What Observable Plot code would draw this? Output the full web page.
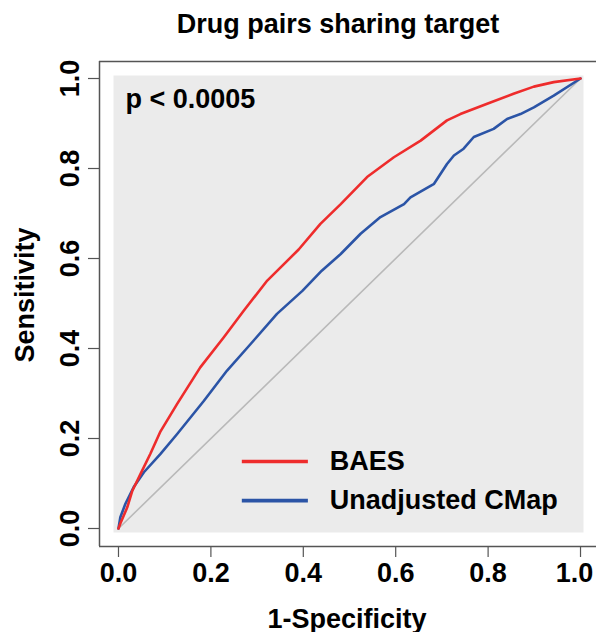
<!DOCTYPE html>
<html>
<head>
<meta charset="utf-8">
<script src="https://cdn.jsdelivr.net/npm/d3@7"></script>
<script src="https://cdn.jsdelivr.net/npm/@observablehq/plot@0.6"></script>
<style>
  html, body { margin: 0; padding: 0; background: white; }
</style>
</head>
<body>
<div id="chart"></div>
<script>
// ---- data ----
const title = "Drug pairs sharing target";
const xLabel = "1-Specificity";
const yLabel = "Sensitivity";
const pLabel = "p < 0.0005";
const seriesNames = ["BAES", "Unadjusted CMap"];
const seriesColors = ["#ee2c2c", "#2b54a6"];
const xTicks = [0, 0.2, 0.4, 0.6, 0.8, 1.0];
const yTicks = [0, 0.2, 0.4, 0.6, 0.8, 1.0];

const baesFpr = [0, 0.004, 0.019, 0.030, 0.048, 0.069, 0.091, 0.127, 0.177, 0.228, 0.271, 0.322, 0.390, 0.437, 0.481, 0.538, 0.596, 0.654, 0.711, 0.740, 0.798, 0.855, 0.899, 0.942, 1.0];
const baesTpr = [0, 0.011, 0.047, 0.084, 0.122, 0.166, 0.216, 0.277, 0.358, 0.425, 0.484, 0.551, 0.620, 0.677, 0.721, 0.781, 0.825, 0.862, 0.907, 0.921, 0.944, 0.966, 0.982, 0.992, 1.0];

const cmapFpr = [0, 0.004, 0.015, 0.033, 0.055, 0.091, 0.127, 0.185, 0.235, 0.286, 0.343, 0.398, 0.440, 0.481, 0.524, 0.567, 0.618, 0.632, 0.683, 0.711, 0.726, 0.747, 0.769, 0.812, 0.841, 0.870, 0.899, 0.942, 1.0];
const cmapTpr = [0, 0.025, 0.055, 0.092, 0.125, 0.166, 0.210, 0.284, 0.351, 0.410, 0.477, 0.528, 0.573, 0.610, 0.655, 0.692, 0.721, 0.736, 0.766, 0.810, 0.829, 0.844, 0.870, 0.888, 0.910, 0.921, 0.936, 0.962, 1.0];

const diagonal = [0, 1];

// ---- build tables ----
const baes = baesFpr.map((x, i) => ({x, y: baesTpr[i], s: seriesNames[0]}));
const cmap = cmapFpr.map((x, i) => ({x, y: cmapTpr[i], s: seriesNames[1]}));
const diag = diagonal.map(v => ({x: v, y: v}));

// layout (scale extents / legend placement)
const xDomain = [-0.0411, 1.0346];
const yDomain = [-0.04, 1.0378];
const legend = seriesNames.map((name, i) => ({name, color: seriesColors[i], y: [0.149, 0.062][i]}));
const legX1 = 0.268, legX2 = 0.411, legTextX = 0.457;

const frameStroke = "#555";
const fmt = d => d.toFixed(1);
const lastX = xTicks[xTicks.length - 1];

const chart = Plot.plot({
  width: 596,
  height: 632,
  marginLeft: 99,
  marginRight: 0,
  marginTop: 61,
  marginBottom: 86,
  style: {
    fontFamily: "'Liberation Sans', Arial, Helvetica, sans-serif",
    fontWeight: "bold",
    fontSize: "27px",
    background: "white",
    color: "black",
    overflow: "visible"
  },
  x: {domain: xDomain},
  y: {domain: yDomain},
  marks: [
    // gray panel
    Plot.frame({fill: "#ebebeb", stroke: null, insetLeft: 14, insetTop: 14, insetBottom: 14, insetRight: 13}),
    // box lines
    Plot.ruleX([xDomain[0]], {stroke: frameStroke, strokeWidth: 1.5}),
    Plot.ruleY([yDomain[0]], {stroke: frameStroke, strokeWidth: 1.5}),
    Plot.ruleY([yDomain[1]], {stroke: frameStroke, strokeWidth: 1.5}),
    // axes
    Plot.axisX(xTicks, {tickSize: 11, tickPadding: 5, tickFormat: d => d === lastX ? "" : fmt(d), label: null, stroke: frameStroke, strokeWidth: 1.2}),
    Plot.text([lastX], {x: d => d, text: fmt, frameAnchor: "bottom", dy: 16, dx: -6, lineAnchor: "top", fill: "black"}),
    Plot.axisY(yTicks, {tickSize: 11, tickPadding: 10, tickRotate: -90, tickFormat: fmt, label: null, stroke: frameStroke, strokeWidth: 1.2}),
    // diagonal
    Plot.line(diag, {x: "x", y: "y", stroke: "#b9b9b9", strokeWidth: 1.6}),
    // curves
    Plot.line(cmap, {x: "x", y: "y", stroke: seriesColors[1], strokeWidth: 2.6}),
    Plot.line(baes, {x: "x", y: "y", stroke: seriesColors[0], strokeWidth: 2.6}),
    // legend
    Plot.ruleY(legend, {y: "y", x1: legX1, x2: legX2, stroke: "color", strokeWidth: 3.6}),
    Plot.text(legend, {y: "y", x: legTextX, text: "name", textAnchor: "start", lineAnchor: "middle", fill: "black"}),
    // p value
    Plot.text([pLabel], {text: d => d, frameAnchor: "top-left", dx: 26, dy: 46, textAnchor: "start", lineAnchor: "bottom", fill: "black"}),
    // title
    Plot.text([title], {text: d => d, frameAnchor: "top", dx: -10, dy: -29, lineAnchor: "bottom", fill: "black"}),
    // axis labels
    Plot.text([xLabel], {text: d => d, frameAnchor: "bottom", dx: -1, dy: 81, lineAnchor: "bottom", fill: "black"}),
    Plot.text([yLabel], {text: d => d, frameAnchor: "left", dx: -66, dy: -9, rotate: -90, textAnchor: "middle", lineAnchor: "bottom", fill: "black"})
  ]
});

document.getElementById("chart").appendChild(chart);
</script>
</body>
</html>
